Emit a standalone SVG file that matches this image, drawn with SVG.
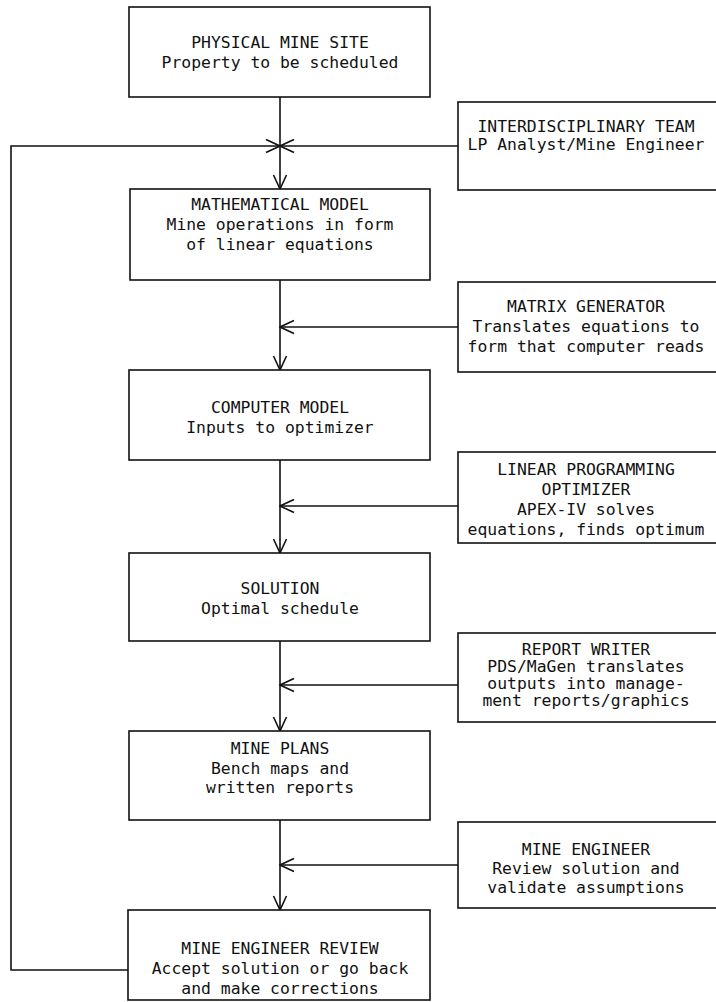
<svg xmlns="http://www.w3.org/2000/svg" width="716" height="1002" viewBox="0 0 716 1002">
<defs>
<style>
.b{fill:#fff;stroke:#111;stroke-width:1.6}
.c{fill:none;stroke:#111;stroke-width:1.6}
text{font-family:"DejaVu Sans Mono","Liberation Mono",monospace;font-size:16.4px;fill:#111;text-anchor:middle}
</style>
<marker id="ah" viewBox="0 0 16 16" refX="15" refY="8" markerWidth="16" markerHeight="16" markerUnits="userSpaceOnUse" orient="auto">
<path d="M1,1.5 L15,8 L1,14.5" fill="none" stroke="#111" stroke-width="1.6"/>
</marker>
</defs>
<rect width="716" height="1002" fill="#fff"/>
<g id="connectors">
<path class="c" d="M280,97 V189" marker-end="url(#ah)"/>
<path class="c" d="M128,970 H11 V146 H280" marker-end="url(#ah)"/>
<path class="c" d="M458,146 H280" marker-end="url(#ah)"/>
<path class="c" d="M280,280 V370" marker-end="url(#ah)"/>
<path class="c" d="M458,327 H280" marker-end="url(#ah)"/>
<path class="c" d="M280,460 V553" marker-end="url(#ah)"/>
<path class="c" d="M458,506 H280" marker-end="url(#ah)"/>
<path class="c" d="M280,641 V731" marker-end="url(#ah)"/>
<path class="c" d="M458,685 H280" marker-end="url(#ah)"/>
<path class="c" d="M280,820 V910" marker-end="url(#ah)"/>
<path class="c" d="M458,865 H280" marker-end="url(#ah)"/>
</g>
<g id="physical-mine-site">
<rect class="b" x="129" y="7" width="301" height="90"/>
<text x="280" y="48">PHYSICAL MINE SITE</text>
<text x="280" y="68">Property to be scheduled</text>
</g>
<g id="interdisciplinary-team">
<rect class="b" x="458" y="102" width="280" height="88"/>
<text x="586" y="132">INTERDISCIPLINARY TEAM</text>
<text x="586" y="150">LP Analyst/Mine Engineer</text>
</g>
<g id="mathematical-model">
<rect class="b" x="130" y="189" width="300" height="91"/>
<text x="280" y="210">MATHEMATICAL MODEL</text>
<text x="280" y="230">Mine operations in form</text>
<text x="280" y="250">of linear equations</text>
</g>
<g id="matrix-generator">
<rect class="b" x="458" y="282" width="280" height="90"/>
<text x="586" y="312">MATRIX GENERATOR</text>
<text x="586" y="332">Translates equations to</text>
<text x="586" y="352">form that computer reads</text>
</g>
<g id="computer-model">
<rect class="b" x="129" y="370" width="301" height="90"/>
<text x="280" y="413">COMPUTER MODEL</text>
<text x="280" y="433">Inputs to optimizer</text>
</g>
<g id="lp-optimizer">
<rect class="b" x="458" y="452" width="280" height="91"/>
<text x="586" y="475">LINEAR PROGRAMMING</text>
<text x="586" y="495">OPTIMIZER</text>
<text x="586" y="515">APEX-IV solves</text>
<text x="586" y="535">equations, finds optimum</text>
</g>
<g id="solution">
<rect class="b" x="129" y="553" width="301" height="88"/>
<text x="280" y="594">SOLUTION</text>
<text x="280" y="614">Optimal schedule</text>
</g>
<g id="report-writer">
<rect class="b" x="458" y="633" width="280" height="89"/>
<text x="586" y="655">REPORT WRITER</text>
<text x="586" y="672">PDS/MaGen translates</text>
<text x="586" y="689">outputs into manage-</text>
<text x="586" y="706">ment reports/graphics</text>
</g>
<g id="mine-plans">
<rect class="b" x="129" y="731" width="301" height="89"/>
<text x="280" y="754">MINE PLANS</text>
<text x="280" y="774">Bench maps and</text>
<text x="280" y="793">written reports</text>
</g>
<g id="mine-engineer">
<rect class="b" x="458" y="822" width="280" height="86"/>
<text x="586" y="855">MINE ENGINEER</text>
<text x="586" y="874">Review solution and</text>
<text x="586" y="893">validate assumptions</text>
</g>
<g id="mine-engineer-review">
<rect class="b" x="128" y="910" width="302" height="90"/>
<text x="280" y="954">MINE ENGINEER REVIEW</text>
<text x="280" y="974">Accept solution or go back</text>
<text x="280" y="994">and make corrections</text>
</g>
</svg>
